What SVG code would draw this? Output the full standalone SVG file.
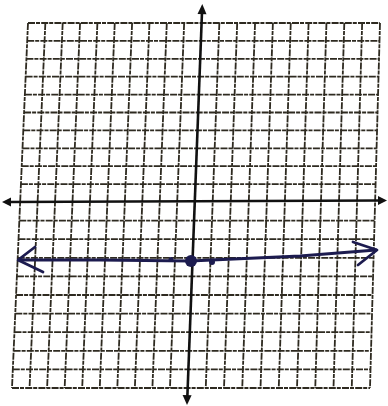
<svg xmlns="http://www.w3.org/2000/svg" width="388" height="406" viewBox="0 0 388 406">
<style>
.g{stroke:#2e2a20;stroke-width:1.8;stroke-dasharray:7 1 4 1.2;fill:none}
.ax{stroke:#111;stroke-width:2.6;fill:none}
.ah{fill:#111}
.bl{stroke:#1c1b4f;stroke-width:2.8;fill:none;stroke-linecap:round;stroke-linejoin:round}
</style>
<rect width="388" height="406" fill="#fff"/>
<g id="grid">
<line class="g" x1="28" y1="23" x2="12" y2="388"/>
<line class="g" x1="45.35" y1="23" x2="29.55" y2="388"/>
<line class="g" x1="62.7" y1="23" x2="47.1" y2="388"/>
<line class="g" x1="80.05" y1="23" x2="64.65" y2="388"/>
<line class="g" x1="97.4" y1="23" x2="82.2" y2="388"/>
<line class="g" x1="114.75" y1="23" x2="99.75" y2="388"/>
<line class="g" x1="132.1" y1="23" x2="117.3" y2="388"/>
<line class="g" x1="149.45" y1="23" x2="134.85" y2="388"/>
<line class="g" x1="166.8" y1="23" x2="152.4" y2="388"/>
<line class="g" x1="184.15" y1="23" x2="169.95" y2="388"/>
<line class="g" x1="219.35" y1="23" x2="205.75" y2="388"/>
<line class="g" x1="237.2" y1="23" x2="224" y2="388"/>
<line class="g" x1="255.05" y1="23" x2="242.25" y2="388"/>
<line class="g" x1="272.9" y1="23" x2="260.5" y2="388"/>
<line class="g" x1="290.75" y1="23" x2="278.75" y2="388"/>
<line class="g" x1="308.6" y1="23" x2="297" y2="388"/>
<line class="g" x1="326.45" y1="23" x2="315.25" y2="388"/>
<line class="g" x1="344.3" y1="23" x2="333.5" y2="388"/>
<line class="g" x1="362.15" y1="23" x2="351.75" y2="388"/>
<line class="g" x1="380" y1="23" x2="370" y2="388"/>
<line class="g" x1="28" y1="23" x2="380" y2="23"/>
<line class="g" x1="27.2" y1="40.9" x2="379.5" y2="40.9"/>
<line class="g" x1="26.4" y1="58.8" x2="379" y2="58.8"/>
<line class="g" x1="25.6" y1="76.7" x2="378.5" y2="76.7"/>
<line class="g" x1="24.9" y1="94.6" x2="378" y2="94.6"/>
<line class="g" x1="24.1" y1="112.5" x2="377.5" y2="112.5"/>
<line class="g" x1="23.3" y1="130.4" x2="377.1" y2="130.4"/>
<line class="g" x1="22.5" y1="148.3" x2="376.6" y2="148.3"/>
<line class="g" x1="21.7" y1="166.2" x2="376.1" y2="166.2"/>
<line class="g" x1="20.9" y1="184.1" x2="375.6" y2="184.1"/>
<line class="g" x1="19.3" y1="220.6" x2="374.6" y2="220.6"/>
<line class="g" x1="18.5" y1="239.2" x2="374.1" y2="239.2"/>
<line class="g" x1="17.7" y1="257.8" x2="373.6" y2="257.8"/>
<line class="g" x1="16.9" y1="276.4" x2="373.1" y2="276.4"/>
<line class="g" x1="16.1" y1="295" x2="372.5" y2="295"/>
<line class="g" x1="15.3" y1="313.6" x2="372" y2="313.6"/>
<line class="g" x1="14.5" y1="332.2" x2="371.5" y2="332.2"/>
<line class="g" x1="13.6" y1="350.8" x2="371" y2="350.8"/>
<line class="g" x1="12.8" y1="369.4" x2="370.5" y2="369.4"/>
<line class="g" x1="12" y1="388" x2="370" y2="388"/>
</g>
<g id="axes">
<line class="ax" x1="8" y1="202" x2="381" y2="200.5"/>
<polygon class="ah" points="2,202 11,197.5 11,206.5"/>
<polygon class="ah" points="387,200.5 378,196 378,205"/>
<line class="ax" x1="202" y1="12" x2="187.3" y2="398"/>
<polygon class="ah" points="202.3,4 197.5,14 206.5,14.3"/>
<polygon class="ah" points="187,405 182.6,395 191.6,395.3"/>
</g>
<g id="line">
<polyline class="bl" points="19,260 100,260 190,261 300,256 376,250"/>
<polyline class="bl" points="35,247 18,260 43,272"/>
<polyline class="bl" points="353,242 377,250 358,265"/>
<circle cx="191" cy="261" r="6" fill="#1c1b4f"/>
<circle cx="171" cy="259.5" r="2.5" fill="#1c1b4f"/>
<circle cx="212" cy="262" r="3" fill="#1c1b4f"/>
</g>
</svg>
